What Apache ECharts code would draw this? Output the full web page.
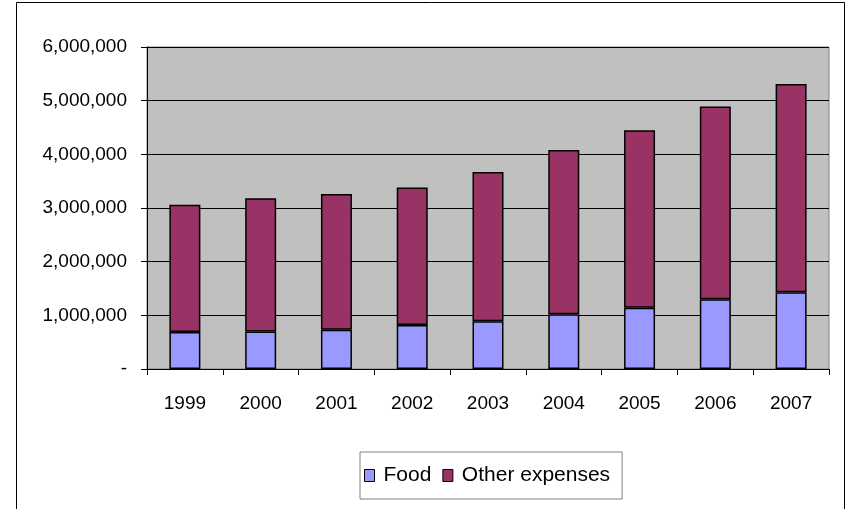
<!DOCTYPE html>
<html>
<head>
<meta charset="utf-8">
<script src="https://cdn.jsdelivr.net/npm/echarts@6/dist/echarts.min.js"></script>
<style>
  html,body{margin:0;padding:0;background:#fff;}
  #chart{width:848px;height:509px;}
</style>
</head>
<body>
<div id="chart"></div>
<script>
// years on the x axis
const years=['1999','2000','2001','2002','2003','2004','2005','2006','2007'];
// food spending (bottom of each stack)
const food=[690000,700000,730000,820000,890000,1020000,1140000,1300000,1430000];
// everything else (top of each stack)
const otherExpenses=[2370000,2480000,2530000,2560000,2780000,3060000,3310000,3590000,3880000];
const seriesNames=['Food','Other expenses'];

const font='"Liberation Sans",Arial,sans-serif';

const chart=echarts.init(document.getElementById('chart'));
chart.setOption({
  animation:false,
  backgroundColor:'#fff',
  textStyle:{fontFamily:font},
  graphic:[{
    type:'rect',
    shape:{x:16.5,y:2.5,width:828,height:520},
    style:{fill:null,stroke:'#000',lineWidth:1},
    silent:true
  }],
  grid:{
    left:147,
    top:47,
    width:682,
    height:322,
    show:true,
    backgroundColor:'#C0C0C0',
    borderColor:'#808080',
    borderWidth:1
  },
  legend:{
    data:seriesNames,
    left:360,
    top:452,
    orient:'horizontal',
    icon:'rect',
    padding:[13,12,13,4],
    borderColor:'#808080',
    borderWidth:1,
    itemWidth:10,
    itemHeight:12,
    itemGap:11,
    itemStyle:{borderColor:'#000',borderWidth:1},
    textStyle:{fontFamily:font,fontSize:21,color:'#000',padding:[0,0,0,4]}
  },
  xAxis:{
    type:'category',
    data:years,
    axisLine:{lineStyle:{color:'#000',width:1}},
    axisTick:{show:true,length:6,lineStyle:{color:'#000'}},
    axisLabel:{color:'#000',fontSize:19,fontFamily:font,margin:25}
  },
  yAxis:{
    type:'value',
    min:0,
    max:6000000,
    interval:1000000,
    axisLine:{show:true,lineStyle:{color:'#000',width:1}},
    axisTick:{show:true,length:6,lineStyle:{color:'#000'}},
    splitLine:{show:true,lineStyle:{color:'#000',width:1}},
    axisLabel:{
      color:'#000',
      fontSize:19,
      fontFamily:font,
      margin:20,
      formatter:function(v){
        if(v===0) return '-';
        return v.toLocaleString('en-US');
      }
    }
  },
  series:[{
    name:seriesNames[0],
    type:'bar',
    stack:'total',
    barWidth:31,
    data:food,
    itemStyle:{color:'#9999FF',borderColor:'#000',borderWidth:1.5}
  },{
    name:seriesNames[1],
    type:'bar',
    stack:'total',
    barWidth:31,
    data:otherExpenses,
    itemStyle:{color:'#993366',borderColor:'#000',borderWidth:1.5}
  }]
});
</script>
</body>
</html>
